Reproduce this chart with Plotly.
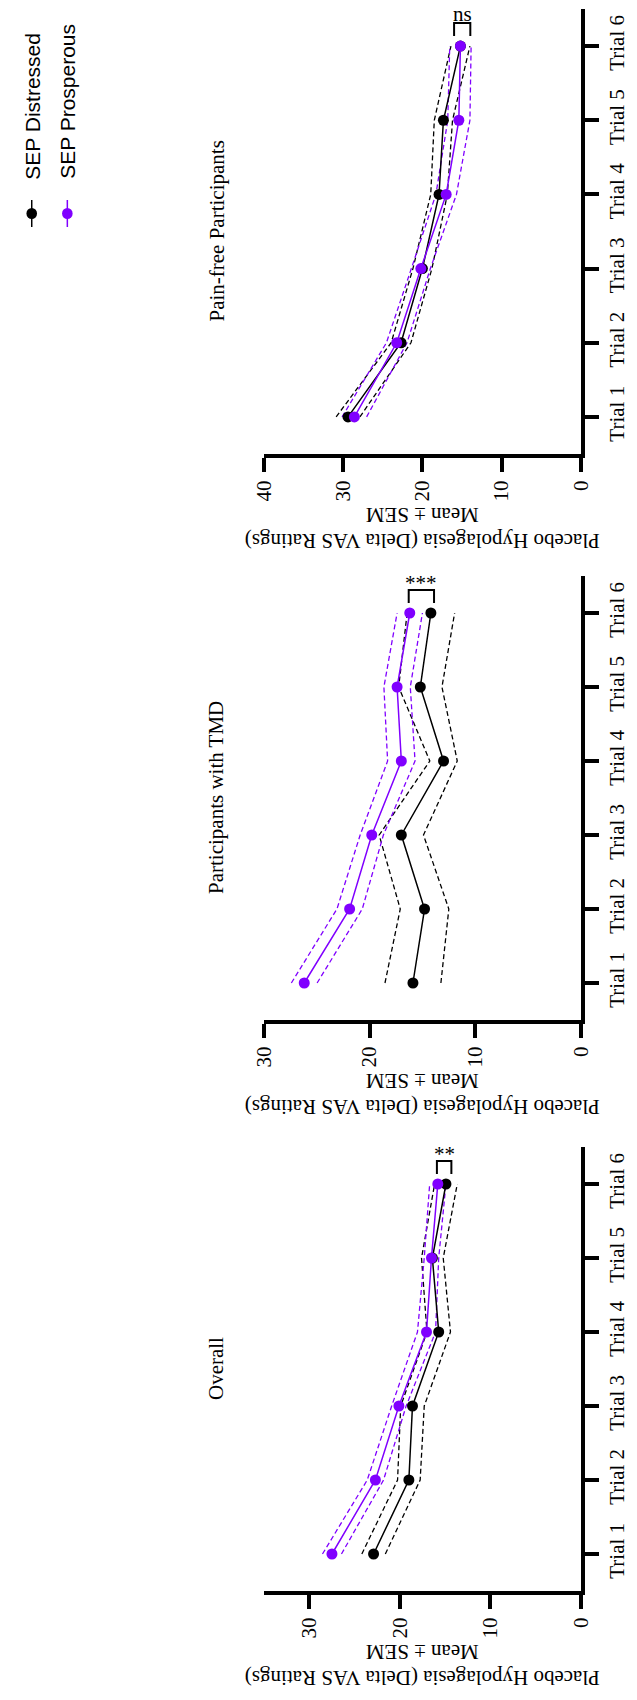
import plotly.graph_objects as go

W, H = 637, 1700

# ---------------- data ----------------
trials = ["Trial 1", "Trial 2", "Trial 3", "Trial 4", "Trial 5", "Trial 6"]
trial_pos = [1, 2, 3, 4, 5, 6]

panel_titles = ["Pain-free Participants", "Participants with TMD", "Overall"]
value_max = [40, 30, 35]
value_ticks = [[0, 10, 20, 30, 40], [0, 10, 20, 30], [0, 10, 20, 30]]

painfree_distressed_mean = [29.4, 22.7, 20.0, 17.9, 17.35, 15.2]
painfree_distressed_sem = [1.5, 1.25, 1.2, 1.05, 1.15, 1.2]
painfree_prosperous_mean = [28.6, 23.25, 20.2, 17.0, 15.4, 15.2]
painfree_prosperous_sem = [1.55, 1.3, 1.2, 1.3, 1.4, 1.35]

tmd_distressed_mean = [15.9, 14.8, 17.0, 13.0, 15.2, 14.2]
tmd_distressed_sem = [2.65, 2.3, 2.1, 1.3, 2.05, 2.25]
tmd_prosperous_mean = [26.2, 21.9, 19.8, 17.0, 17.4, 16.2]
tmd_prosperous_sem = [1.22, 1.2, 1.1, 1.3, 1.25, 1.2]

overall_distressed_mean = [22.9, 19.0, 18.6, 15.7, 16.4, 14.9]
overall_distressed_sem = [1.3, 1.25, 1.3, 1.3, 1.2, 1.25]
overall_prosperous_mean = [27.5, 22.7, 20.1, 17.05, 16.5, 15.8]
overall_prosperous_sem = [1.05, 0.9, 0.8, 1.0, 0.8, 0.9]

sig_labels = ["ns", "***", "**"]
sig_bracket_lo = [13.95, 13.9, 14.3]
sig_bracket_hi = [16.0, 16.3, 15.9]

series_names = ["SEP Distressed", "SEP Prosperous"]
axis_title_1 = "Placebo Hypolagesia (Delta VAS Ratings)"
axis_title_2 = "Mean ± SEM"

# ---------------- style / layout ----------------
BLACK = "#000000"
PURPLE = "#8000FF"
colors = [BLACK, PURPLE]
SERIF = "Liberation Serif, Times New Roman, serif"
SANS = "Liberation Sans, Arial, sans-serif"

panels = [
    (painfree_distressed_mean, painfree_distressed_sem, painfree_prosperous_mean, painfree_prosperous_sem),
    (tmd_distressed_mean, tmd_distressed_sem, tmd_prosperous_mean, tmd_prosperous_sem),
    (overall_distressed_mean, overall_distressed_sem, overall_prosperous_mean, overall_prosperous_sem),
]

X_LEFT, X_RIGHT = 262, 591
panel_px = [(9, 454), (576, 1020), (1147, 1591)]


def fx(px):
    return px / W


def fy(py):
    return 1 - py / H


fig = go.Figure()
annotations = []
shapes = []

for i, (dm, ds, pm, ps) in enumerate(panels):
    xa = "x" if i == 0 else f"x{i+1}"
    ya = "y" if i == 0 else f"y{i+1}"
    groups = [(dm, ds), (pm, ps)]
    for g, (m, s) in enumerate(groups):
        c = colors[g]
        upper = [a + b for a, b in zip(m, s)]
        lower = [a - b for a, b in zip(m, s)]
        for band in (upper, lower):
            fig.add_trace(go.Scatter(
                x=band, y=trial_pos, mode="lines", xaxis=xa, yaxis=ya,
                line=dict(color=c, width=1.3, dash="5px,3px"),
                showlegend=False, hoverinfo="skip"))
    for g, (m, s) in enumerate(groups):
        c = colors[g]
        fig.add_trace(go.Scatter(
            x=m, y=trial_pos, mode="lines+markers", xaxis=xa, yaxis=ya,
            name=series_names[g],
            line=dict(color=c, width=1.5),
            marker=dict(color=c, size=11),
            showlegend=False))
    # significance bracket
    lo, hi = sig_bracket_lo[i], sig_bracket_hi[i]
    fig.add_trace(go.Scatter(
        x=[hi, hi, lo, lo], y=[6.135, 6.31, 6.31, 6.135], mode="lines",
        xaxis=xa, yaxis=ya, line=dict(color=BLACK, width=2),
        showlegend=False, hoverinfo="skip", cliponaxis=False))
    if sig_labels[i] == "ns":
        annotations.append(dict(
            x=(lo + hi) / 2, y=1.0, xref=xa, yref="paper", text=sig_labels[i],
            showarrow=False, xanchor="center", yanchor="top", borderpad=0,
            yshift=-1,
            font=dict(family=SERIF, size=21, color=BLACK)))
    else:
        annotations.append(dict(
            x=(lo + hi) / 2, y=6.31, xref=xa, yref=ya, text=sig_labels[i],
            showarrow=False, xanchor="center", yanchor="bottom",
            yshift=-7,
            font=dict(family=SERIF, size=21, color=BLACK)))

    top, bot = panel_px[i]
    fig.layout[("xaxis" if i == 0 else f"xaxis{i+1}")] = dict(
        domain=[fx(X_LEFT), fx(X_RIGHT)], anchor=ya,
        range=[value_max[i], 0], tickvals=value_ticks[i],
        ticktext=[str(v) for v in value_ticks[i]],
        tickangle=-90, ticks="outside", ticklen=14, tickwidth=4,
        tickcolor=BLACK, showline=True, linewidth=4, linecolor=BLACK,
        showgrid=False, zeroline=False,
        tickfont=dict(family=SERIF, size=21, color=BLACK))
    fig.layout[("yaxis" if i == 0 else f"yaxis{i+1}")] = dict(
        domain=[fy(bot), fy(top)], anchor=xa, side="right",
        range=[0.5, 6.5], tickvals=trial_pos, ticktext=trials,
        tickangle=-90, ticks="outside", ticklen=14, tickwidth=4,
        tickcolor=BLACK, showline=True, linewidth=4, linecolor=BLACK,
        showgrid=False, zeroline=False,
        tickfont=dict(family=SERIF, size=21, color=BLACK))

    # panel title (rotated)
    annotations.append(dict(
        x=fx(212), y=fy((top + bot) / 2), xref="paper", yref="paper",
        text=panel_titles[i], textangle=-90, showarrow=False,
        xanchor="center", yanchor="middle",
        font=dict(family=SERIF, size=21, color=BLACK)))
    # value axis title (upside-down, two lines)
    cx = (X_LEFT + X_RIGHT) / 2
    annotations.append(dict(
        x=fx(cx), y=fy(bot + 61), xref="paper", yref="paper",
        text=axis_title_2, textangle=180, showarrow=False,
        xanchor="center", yanchor="middle",
        font=dict(family=SERIF, size=21, color=BLACK)))
    annotations.append(dict(
        x=fx(cx), y=fy(bot + 87), xref="paper", yref="paper",
        text=axis_title_1, textangle=180, showarrow=False,
        xanchor="center", yanchor="middle",
        font=dict(family=SERIF, size=21, color=BLACK)))

# legend (rotated, drawn manually)
legend_x = [20.5, 57.5]
legend_text_center = [106, 101.5]
for g in range(2):
    annotations.append(dict(
        x=fx(legend_x[g]), y=fy(legend_text_center[g]), xref="paper", yref="paper",
        text=series_names[g], textangle=-90, showarrow=False,
        xanchor="center", yanchor="middle",
        font=dict(family=SANS, size=21, color=BLACK)))
    shapes.append(dict(
        type="line", xref="paper", yref="paper",
        x0=fx(legend_x[g]), x1=fx(legend_x[g]), y0=fy(200), y1=fy(227),
        line=dict(color=colors[g], width=1.5)))
    shapes.append(dict(
        type="circle", xref="paper", yref="paper",
        x0=fx(legend_x[g] - 5.5), x1=fx(legend_x[g] + 5.5),
        y0=fy(213.5 - 5.5), y1=fy(213.5 + 5.5),
        line=dict(color=colors[g], width=0), fillcolor=colors[g]))

fig.update_layout(
    width=W, height=H, margin=dict(l=0, r=0, t=0, b=0),
    paper_bgcolor="white", plot_bgcolor="white",
    showlegend=False, annotations=annotations, shapes=shapes)

fig.write_html("out.html")
